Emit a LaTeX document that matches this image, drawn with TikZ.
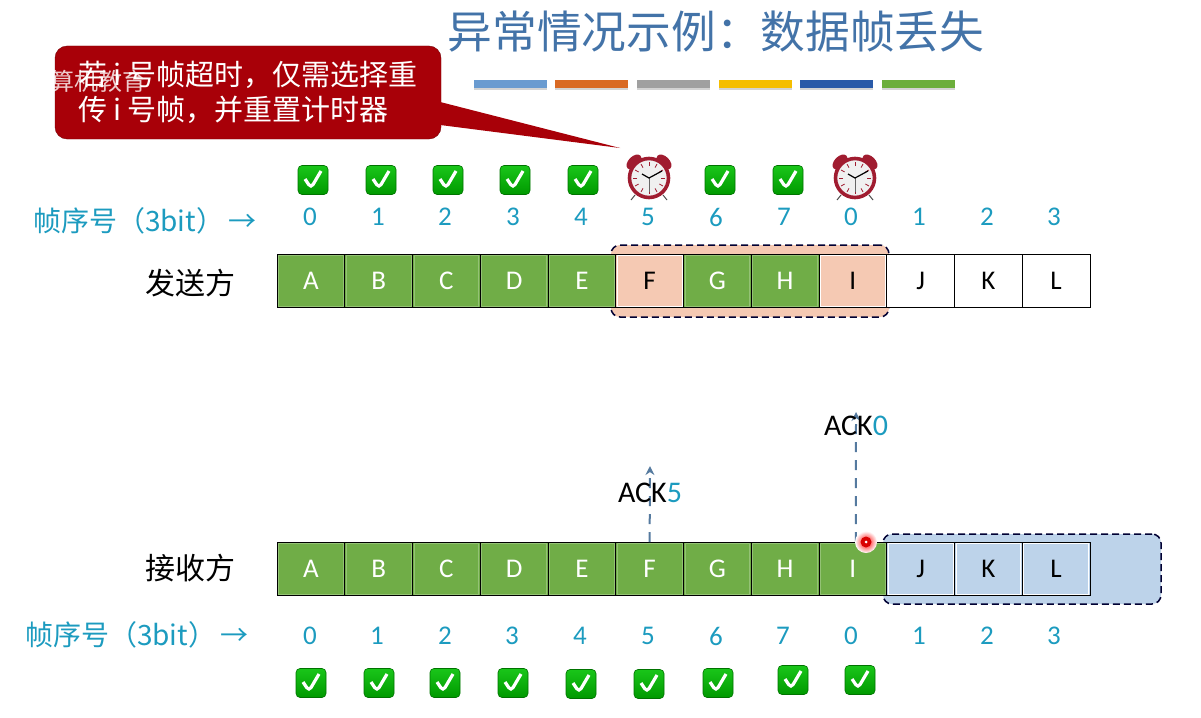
\documentclass[tikz,border=0pt]{standalone}
\usepackage{fontspec}
\setmainfont{Carlito}
\newfontfamily\cjk{Noto Sans CJK SC}
\usetikzlibrary{arrows.meta,positioning,shadows}
\definecolor{cgreen}{HTML}{70AD47}
\definecolor{cpink}{HTML}{F5C9B3}
\definecolor{cpale}{HTML}{BDD3EA}
\definecolor{cteal}{HTML}{1C9BBF}
\definecolor{cslate}{HTML}{4373A8}
\definecolor{carrow}{HTML}{557A9F}
\definecolor{cwine}{HTML}{A80008}
\definecolor{cclock}{HTML}{A01C30}
\definecolor{cbarA}{HTML}{6A9BD0}
\definecolor{cbarB}{HTML}{D96A24}
\definecolor{cbarC}{HTML}{A0A0A0}
\definecolor{cbarD}{HTML}{F5BE00}
\definecolor{cbarE}{HTML}{2A5AA8}
\definecolor{cbarF}{HTML}{6CAE3C}
\tikzset{
  clockicon/.pic={
    \fill[cclock,shift={(-15,-16)},rotate=45] (0,0) ellipse (9 and 5.5);
    \fill[cclock,shift={(15,-16)},rotate=-45] (0,0) ellipse (9 and 5.5);
    \draw[black!70,line width=1pt] (-14,17)--(-18,22) (14,17)--(18,22);
    \draw[cclock,line width=3.6pt,fill=black!6] (0,0) circle (19.5);
    \foreach \a in {0,30,...,330} \draw[cclock,line width=.8pt] (\a:12)--(\a:16);
    \draw[black!60,line width=.6pt] (0,0)--(0,14);
    \draw[black,line width=1.2pt] (-7,-4)--(0,0)--(13,-7);
  }}
\begin{document}
\begin{tikzpicture}[x=1pt,y=-1pt,node distance=0pt and 0pt,
  rim/.style={path picture={\draw[#1,line width=1pt]
      ([shift={(1.5pt,1.5pt)}]path picture bounding box.south west) rectangle
      ([shift={(-1.5pt,-1.5pt)}]path picture bounding box.north east);}},
  cell/.style={rectangle,draw=black,line width=.8pt,inner sep=0pt,outer sep=0pt,
               minimum width=67.75pt,minimum height=53.5pt,font=\fontsize{27}{27}\selectfont},
  sent/.style={cell,fill=cgreen,text=white,rim=cgreen!75!white},
  late/.style={cell,fill=cpink,text=black,rim=white},
  idle/.style={cell,fill=white,text=black},
  held/.style={cell,fill=cpale,text=black,rim=white},
  seqno/.style={text=cteal,inner sep=0pt,font=\fontsize{27}{27}\selectfont},
  seqlbl/.style={text=cteal,inner sep=0pt,font=\cjk\fontsize{28}{28}\selectfont},
  side/.style={inner sep=0pt,font=\cjk\fontsize{30}{30}\selectfont},
  chk/.style={rectangle,rounded corners=4pt,draw=green!45!black,line width=.6pt,top color=green!75!black!90,
              bottom color=green!60!black,minimum width=30pt,minimum height=29pt,inner sep=0pt,
              path picture={\draw[white,line width=3.2pt]
                ([shift={(-8pt,1pt)}]path picture bounding box.center)--
                ([shift={(-2pt,-8pt)}]path picture bounding box.center)--
                ([shift={(8pt,9pt)}]path picture bounding box.center);}},
  bar/.style={minimum width=73pt,minimum height=8pt,inner sep=0pt,drop shadow={shadow xshift=.6pt,shadow yshift=-1.5pt,opacity=.35}},
  win/.style={rectangle,rounded corners=9pt,draw=black!80!blue,line width=1.5pt,dash pattern=on 7pt off 4pt,inner sep=0pt},
  ackar/.style={-{Stealth[length=9pt,width=9pt]},line width=2pt,carrow,dash pattern=on 10pt off 8pt},
  ack/.style={inner sep=0pt,font=\fontsize{30}{30}\selectfont}]
\useasboundingbox (0,0) rectangle (1201,717);
% title and colour bars
\node[text=cslate,inner sep=0pt,font=\cjk\fontsize{44.7}{44.7}\selectfont] (title) at (716,32) {异常情况示例：数据帧丢失};
\node[bar,fill=cbarA] (b1) at (510,84) {};
\node[bar,fill=cbarB] (b2) at (591,84) {};
\node[bar,fill=cbarC] (b3) at (673,84) {};
\node[bar,fill=cbarD] (b4) at (755,84) {};
\node[bar,fill=cbarE] (b5) at (836,84) {};
\node[bar,fill=cbarF] (b6) at (918,84) {};
% sender window
\node[win,fill=cpink,minimum width=278pt,minimum height=72pt] (swin) at (750,281) {};
\node[sent,anchor=north west] (sA) at (277,254) {A};
\node[sent,right=of sA] (sB) {B};
\node[sent,right=of sB] (sC) {C};
\node[sent,right=of sC] (sD) {D};
\node[sent,right=of sD] (sE) {E};
\node[late,right=of sE] (sF) {F};
\node[sent,right=of sF] (sG) {G};
\node[sent,right=of sG] (sH) {H};
\node[late,right=of sH] (sI) {I};
\node[idle,right=of sI] (sJ) {J};
\node[idle,right=of sJ] (sK) {K};
\node[idle,right=of sK] (sL) {L};
\node[side] (sender) at (190,283) {发送方};
% sender numbers
\node[seqlbl] (slbl) at (145,221) {帧序号（3bit）\,→};
\node[seqno] (s0) at (310,217) {0};
\node[seqno] (s1) at (378,217) {1};
\node[seqno] (s2) at (445,217) {2};
\node[seqno] (s3) at (513,217) {3};
\node[seqno] (s4) at (581,217) {4};
\node[seqno] (s5) at (648,217) {5};
\node[seqno] (s6) at (716,217) {6};
\node[seqno] (s7) at (784,217) {7};
\node[seqno] (s8) at (851,217) {0};
\node[seqno] (s9) at (919,217) {1};
\node[seqno] (s10) at (987,217) {2};
\node[seqno] (s11) at (1054,217) {3};
% sender marks
\node[chk] (sc0) at (313,180) {};
\node[chk] (sc1) at (381,180) {};
\node[chk] (sc2) at (448,180) {};
\node[chk] (sc3) at (515,180) {};
\node[chk] (sc4) at (583,180) {};
\node[chk] (sc6) at (720,180) {};
\node[chk] (sc7) at (788,180) {};
\pic at (649,178) {clockicon};
\pic at (855,178) {clockicon};
% receiver window
\node[win,fill=cpale,minimum width=278pt,minimum height=70pt] (rwin) at (1022,569) {};
\node[sent,anchor=north west] (rA) at (277,542) {A};
\node[sent,right=of rA] (rB) {B};
\node[sent,right=of rB] (rC) {C};
\node[sent,right=of rC] (rD) {D};
\node[sent,right=of rD] (rE) {E};
\node[sent,right=of rE] (rF) {F};
\node[sent,right=of rF] (rG) {G};
\node[sent,right=of rG] (rH) {H};
\node[sent,right=of rH] (rI) {I};
\node[held,right=of rI] (rJ) {J};
\node[held,right=of rJ] (rK) {K};
\node[held,right=of rK] (rL) {L};
\node[side] (receiver) at (190,568) {接收方};
% receiver numbers
\node[seqlbl] (rlbl) at (137,635) {帧序号（3bit）\,→};
\node[seqno] (r0) at (310,636) {0};
\node[seqno] (r1) at (377,636) {1};
\node[seqno] (r2) at (445,636) {2};
\node[seqno] (r3) at (512,636) {3};
\node[seqno] (r4) at (580,636) {4};
\node[seqno] (r5) at (648,636) {5};
\node[seqno] (r6) at (716,636) {6};
\node[seqno] (r7) at (783,636) {7};
\node[seqno] (r8) at (851,636) {0};
\node[seqno] (r9) at (919,636) {1};
\node[seqno] (r10) at (987,636) {2};
\node[seqno] (r11) at (1054,636) {3};
% receiver marks
\node[chk] (rc0) at (311,683) {};
\node[chk] (rc1) at (379,683) {};
\node[chk] (rc2) at (445,683) {};
\node[chk] (rc3) at (513,683) {};
\node[chk] (rc4) at (581,684) {};
\node[chk] (rc5) at (649,684) {};
\node[chk] (rc6) at (718,683) {};
\node[chk] (rc7) at (793,680) {};
\node[chk] (rc8) at (860,680) {};
% acks
\coordinate (a5) at (650,466);
\coordinate (a0) at (856,412);
\draw[ackar] (rF.north) -- (a5);
\draw[ackar] ([xshift=3pt]rI.north) -- (a0);
\node[ack] (ack5) at (650,493) {ACK\textcolor{cteal}{5}};
\node[ack] (ack0) at (856,426) {ACK\textcolor{cteal}{0}};
% laser dot
\node[circle,inner sep=0pt,minimum size=22pt,inner color=red,outer color=red!0] (laser) at (866,542) {};
\node[circle,fill=red!85!black,inner sep=0pt,minimum size=11pt] (dot) at (866,542) {};
\node[circle,fill=white,inner sep=0pt,minimum size=3pt] (spot) at (dot) {};
% callout
\node[rectangle,fill=cwine,draw=cwine!70!black,rounded corners=12pt,text=white,align=left,inner ysep=0pt,
      minimum width=386pt,minimum height=93pt,font=\cjk\fontsize{29}{35}\selectfont] (note) at (248,92.5)
  {若 i 号帧超时，仅需选择重\\传 i 号帧，并重置计时器};
\coordinate (tip) at (620,148);
\fill[cwine] ([shift={(-1pt,-9.5pt)}]note.east) -- (tip) -- ([shift={(-1pt,-32.5pt)}]note.east) -- cycle;
\node[text=white,opacity=.8,inner sep=0pt,font=\cjk\fontsize{24}{24}\selectfont] (mark) at (98,81) {算机教育};
\end{tikzpicture}
\end{document}
